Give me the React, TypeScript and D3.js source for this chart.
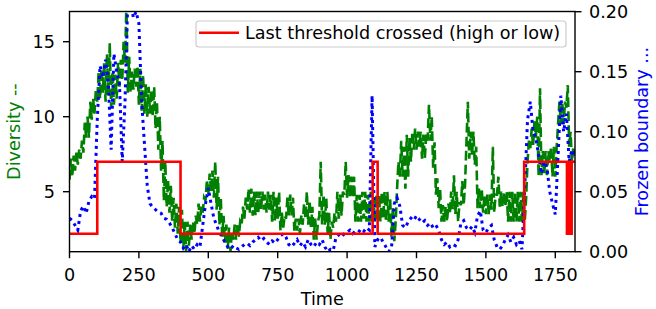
import React from "react";
import * as d3 from "d3";

const DIV_STEP = 5;
const diversity: number[] = [
  5.8, 7.2, 6.0, 7.4, 6.4, 7.6, 6.8, 7.8, 7.2, 8.4,
  7.6, 9.6, 8.6, 10.0, 8.6, 11.0, 9.8, 11.2, 10.2, 11.8,
  11.0, 13.0, 11.2, 13.2, 11.6, 13.6, 11.0, 14.2, 11.4, 14.9,
  10.6, 13.0, 10.8, 12.8, 11.2, 13.6, 12.0, 13.8, 12.4, 15.0,
  13.6, 17.5, 11.6, 14.0, 11.6, 13.0, 11.8, 13.2, 12.0, 13.4,
  10.8, 13.2, 10.4, 12.8, 10.2, 12.2, 10.0, 12.0, 10.2, 11.8,
  10.0, 12.0, 9.2, 11.0, 7.8, 10.0, 6.4, 8.4, 4.4, 7.0,
  4.0, 5.8, 3.6, 5.4, 3.0, 4.6, 2.6, 4.2, 2.2, 4.0,
  1.6, 3.8, 1.2, 3.0, 1.0, 3.0, 1.4, 2.8, 1.8, 3.0,
  2.2, 3.4, 2.8, 4.2, 3.0, 4.0, 3.6, 4.6, 4.4, 5.8,
  4.8, 6.2, 5.0, 6.4, 4.6, 7.0, 3.8, 6.0, 2.8, 4.6,
  2.0, 3.4, 1.6, 2.8, 1.2, 2.6, 1.0, 2.4, 1.8, 2.8,
  1.8, 2.8, 2.0, 3.0, 2.8, 4.0, 3.2, 4.6, 3.8, 5.2,
  3.6, 5.2, 3.4, 5.0, 3.4, 5.0, 3.6, 5.0, 3.8, 5.0,
  3.8, 4.8, 3.6, 5.0, 3.8, 4.8, 3.0, 5.0, 3.0, 4.6,
  3.2, 5.0, 2.4, 3.6, 2.6, 3.4, 3.2, 4.6, 3.4, 4.8,
  3.4, 4.6, 2.4, 3.2, 2.4, 3.2, 2.2, 3.4, 2.8, 4.2,
  3.2, 5.0, 2.8, 4.4, 2.6, 4.0, 1.8, 3.2, 1.8, 3.0,
  3.4, 7.0, 2.8, 4.8, 2.8, 4.6, 2.2, 3.6, 1.8, 3.0,
  2.6, 3.6, 3.0, 5.0, 3.2, 4.8, 3.4, 5.0, 4.8, 7.0,
  4.6, 6.1, 4.6, 6.0, 4.6, 6.0, 3.0, 4.8, 3.0, 4.8,
  3.0, 5.0, 3.2, 5.0, 3.0, 4.8, 3.0, 5.0, 3.0, 4.6,
  3.0, 4.8, 3.0, 4.8, 3.0, 5.0, 3.2, 5.0, 3.0, 5.0,
  3.0, 4.6, 2.0, 4.0, 1.7, 3.0, 5.2, 7.0, 6.0, 8.4,
  6.0, 8.0, 5.2, 8.8, 6.0, 8.6, 7.0, 9.0, 7.8, 9.2,
  7.8, 9.0, 8.0, 9.0, 7.2, 8.8, 7.2, 8.8, 8.4, 10.8,
  8.4, 10.0, 6.6, 8.3, 4.8, 5.9, 3.9, 5.2, 3.0, 4.1,
  3.0, 4.0, 3.0, 4.2, 3.5, 5.0, 3.8, 6.1, 3.5, 5.0,
  3.0, 4.3, 4.1, 5.7, 4.1, 5.5, 8.3, 11.0, 7.2, 9.0,
  7.4, 9.0, 6.8, 8.0, 3.9, 5.2, 3.9, 5.2, 3.6, 4.8,
  3.5, 4.8, 3.5, 4.8, 3.8, 8.0, 3.6, 4.8, 4.8, 6.0,
  4.0, 5.0, 4.0, 5.0, 4.0, 5.0, 3.0, 5.0, 3.0, 5.0,
  3.0, 5.0, 3.0, 5.0, 3.0, 5.0, 3.0, 5.0, 3.0, 4.6,
  7.0, 8.4, 7.9, 9.2, 8.0, 9.8, 8.6, 10.0, 6.0, 11.9,
  6.1, 7.7, 6.1, 7.7, 6.1, 7.7, 7.0, 8.0, 6.0, 8.0,
  6.0, 8.0, 9.5, 11.0, 9.5, 11.0, 9.5, 11.0, 10.6, 12.1,
  8.0, 9.0, 7.0, 8.0, 7.4,
];
const FB_STEP = 10;
const frozenBoundary: number[] = [
  0.028, 0.026, 0.022, 0.018, 0.034, 0.038, 0.032, 0.042, 0.046, 0.044,
  0.11, 0.155, 0.145, 0.16, 0.14, 0.085, 0.165, 0.15, 0.14, 0.075,
  0.125, 0.21, 0.21, 0.195, 0.2, 0.19, 0.125, 0.09, 0.055, 0.04,
  0.037, 0.035, 0.033, 0.032, 0.028, 0.027, 0.024, 0.02, 0.015, 0.01,
  0.008, 0.003, 0.006, 0.0, 0.005, 0.002, 0.006, 0.004, 0.022, 0.04,
  0.053, 0.04, 0.028, 0.022, 0.016, 0.012, 0.008, 0.004, 0.002, 0.005,
  0.003, 0.002, 0.004, 0.006, 0.007, 0.005, 0.008, 0.01, 0.012, 0.009,
  0.011, 0.008, 0.006, 0.009, 0.007, 0.01, 0.013, 0.015, 0.012, 0.006,
  0.004, 0.007, 0.01, 0.005, 0.008, 0.004, 0.01, 0.006, 0.004, 0.008,
  0.006, 0.01, 0.004, 0.0, 0.002, 0.001, 0.012, 0.014, 0.012, 0.015,
  0.016, 0.018, 0.015, 0.017, 0.016, 0.019, 0.017, 0.02, 0.018, 0.13,
  0.004, 0.01, 0.012, 0.008, 0.004, 0.0, 0.003, 0.04, 0.045, 0.038,
  0.022, 0.02, 0.025, 0.028, 0.026, 0.03, 0.027, 0.024, 0.026, 0.022,
  0.024, 0.02, 0.022, 0.018, 0.01, 0.006, 0.008, 0.004, 0.006, 0.005,
  0.01, 0.024, 0.026, 0.02, 0.018, 0.021, 0.016, 0.03, 0.034, 0.018,
  0.016, 0.02, 0.022, 0.01, 0.004, 0.002, 0.005, 0.01, 0.014, 0.008,
  0.012, 0.006, 0.009, 0.002, 0.053, 0.11, 0.125, 0.1, 0.095, 0.08,
  0.065, 0.075, 0.07, 0.05, 0.04, 0.031, 0.08, 0.13, 0.1, 0.115,
  0.075, 0.085, 0.08,
];
const thresholdTimes: number[] = [0, 100, 400, 1092, 1110, 1638, 1792, 1796, 1799, 1803, 1806, 1809, 1821];
const thresholdValues: number[] = [2.2, 7, 2.2, 7, 2.2, 7, 2.2, 7, 2.2, 7, 2.2, 7, 7];

const xTicks = [0, 250, 500, 750, 1000, 1250, 1500, 1750];
const leftTicks = [5, 10, 15];
const rightTicks = [0, 0.05, 0.1, 0.15, 0.2];

const W = 656, H = 309;
const L = 69.5, R = 575, T = 11.5, B = 251.7;
const FONT = "DejaVu Sans";
const FS = 17.6;

export default function App() {
  const x = d3.scaleLinear().domain([0, 1821]).range([L, R]);
  const yL = d3.scaleLinear().domain([1, 17]).range([B, B - 240]);
  const yR = d3.scaleLinear().domain([0, 0.2]).range([B, B - 240]);

  const gLine = d3.line<number>().x((_, i) => x(i * DIV_STEP)).y((d) => yL(d));
  const bLine = d3.line<number>().x((_, i) => x(i * FB_STEP)).y((d) => yR(d));
  const rLine = d3
    .line<number>()
    .x((_, i) => x(thresholdTimes[i]))
    .y((d) => yL(d))
    .curve(d3.curveStepAfter);

  const tick = 6.5;
  return (
    <svg width={W} height={H} style={{ position: "absolute", left: 0, top: 0 }} fontFamily={FONT}>
      <defs>
        <clipPath id="plot">
          <rect x={L} y={T} width={R - L} height={B - T} />
        </clipPath>
      </defs>
      <rect x={0} y={0} width={W} height={H} fill="white" />
      <g clipPath="url(#plot)">
        <path d={gLine(diversity) || ""} fill="none" stroke="green" strokeWidth={2.6} strokeDasharray="9.8,4.2" />
        <path d={bLine(frozenBoundary) || ""} fill="none" stroke="blue" strokeWidth={3} strokeDasharray="3,4" />
        <path d={rLine(thresholdValues) || ""} fill="none" stroke="red" strokeWidth={2.6} />
      </g>
      <rect x={L} y={T} width={R - L} height={B - T} fill="none" stroke="black" strokeWidth={1.4} />
      {xTicks.map((t) => (
        <g key={"x" + t}>
          <line x1={x(t)} x2={x(t)} y1={B} y2={B + tick} stroke="black" strokeWidth={1.4} />
          <text x={x(t)} y={280.5} fontSize={FS} textAnchor="middle" fill="black">
            {t}
          </text>
        </g>
      ))}
      {leftTicks.map((t) => (
        <g key={"l" + t}>
          <line x1={L - tick} x2={L} y1={yL(t)} y2={yL(t)} stroke="black" strokeWidth={1.4} />
          <text x={55} y={yL(t)} dy="0.36em" fontSize={FS} textAnchor="end" fill="black">
            {t}
          </text>
        </g>
      ))}
      {rightTicks.map((t) => (
        <g key={"r" + t}>
          <line x1={R} x2={R + tick} y1={yR(t)} y2={yR(t)} stroke="black" strokeWidth={1.4} />
          <text x={589} y={yR(t)} dy="0.36em" fontSize={FS} textAnchor="start" fill="black">
            {t.toFixed(2)}
          </text>
        </g>
      ))}
      <text x={(L + R) / 2} y={305} fontSize={FS} textAnchor="middle" fill="black">
        Time
      </text>
      <text
        transform={`translate(20,${(T + B) / 2}) rotate(-90)`}
        fontSize={FS}
        textAnchor="middle"
        fill="green"
      >
        Diversity --
      </text>
      <text
        transform={`translate(648,${(T + B) / 2}) rotate(-90)`}
        fontSize={FS}
        textAnchor="middle"
        fill="blue"
      >
        Frozen boundary ...
      </text>
      <rect x={196} y={21} width={370} height={26} rx={3} fill="white" fillOpacity={0.8} stroke="#cccccc" strokeWidth={1.2} />
      <line x1={199} x2={239} y1={32.7} y2={32.7} stroke="red" strokeWidth={2.6} />
      <text x={245} y={39.3} fontSize={FS} fill="black">
        Last threshold crossed (high or low)
      </text>
    </svg>
  );
}
